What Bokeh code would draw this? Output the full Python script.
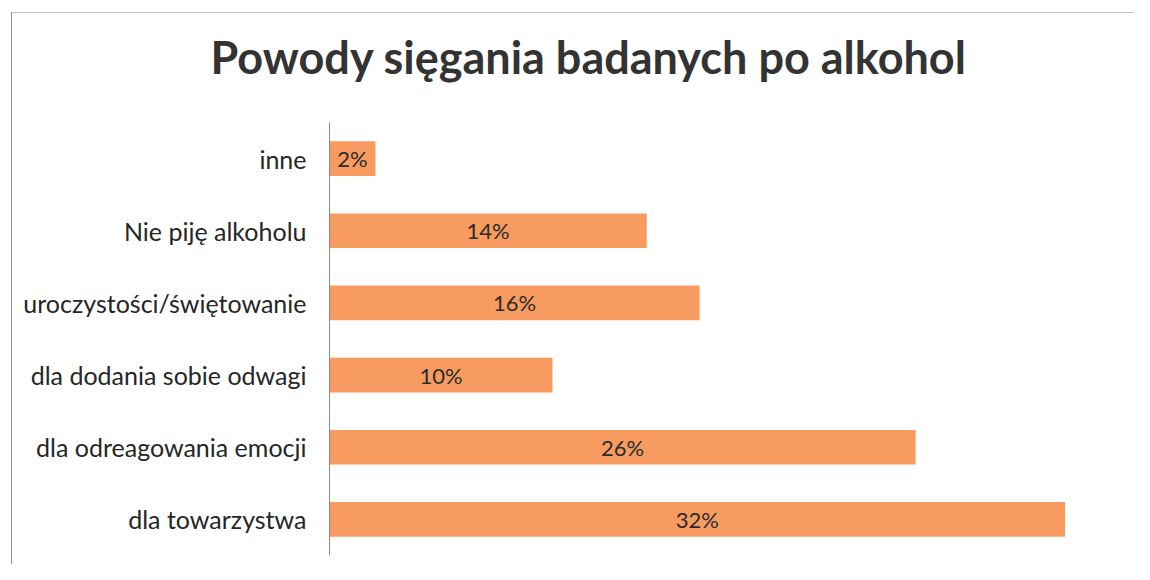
from bokeh.plotting import figure
from bokeh.models import ColumnDataSource, FactorRange, Range1d, Title
from bokeh.core.properties import value
from bokeh.embed import file_html
from bokeh.resources import INLINE

# ---- data (bottom to top) ----
categories = [
    "dla towarzystwa",
    "dla odreagowania emocji",
    "dla dodania sobie odwagi",
    "uroczystości/świętowanie",
    "Nie piję alkoholu",
    "inne",
]
values = [32.0, 25.5, 9.7, 16.1, 13.8, 2.0]
value_labels = ["32%", "26%", "10%", "16%", "14%", "2%"]
title_text = "Powody sięgania badanych po alkohol"

FONT = "Lato"
BAR = "#F79B60"

src = ColumnDataSource(dict(
    cat=categories,
    val=values,
    mid=[v / 2 for v in values],
    lab=value_labels,
))

p = figure(
    width=1134, height=564,
    y_range=FactorRange(factors=categories),
    x_range=Range1d(0, 34.5),
    output_backend="svg", toolbar_location=None,
    min_border_left=329, min_border_top=122, min_border_bottom=9, min_border_right=12,
)
p.border_fill_color = None
p.background_fill_color = "white"
p.styles = {
    "background": "linear-gradient(#8f8f8f,#8f8f8f) 11px 12px/1px 100% no-repeat, "
                  "linear-gradient(#c4c4c4,#c4c4c4) 11px 12px/100% 1px no-repeat, white",
}
p.outline_line_color = None
p.xgrid.visible = False
p.ygrid.visible = False
p.xaxis.visible = False

# spacer between title and plot area
p.add_layout(Title(text=" ", text_font_size="1px", standoff=34), "above")

p.title.text = title_text
p.title.align = "left"
p.title.offset = -119
p.title.standoff = 0
p.title.vertical_align = "top"
p.title.text_font = FONT
p.title.text_font_style = "bold"
p.title.text_font_size = "45px"
p.title.text_color = "#333333"

p.hbar(y="cat", right="val", left=0, height=0.48, source=src,
       fill_color=BAR, line_color=None)
p.text(x="mid", y="cat", text="lab", source=src,
       text_align="center", text_baseline="middle",
       text_font=value(FONT), text_font_size="22px", text_color="#2b2b2b")

ax = p.yaxis[0]
ax.axis_line_color = "#8c8c8c"
ax.axis_line_width = 1
ax.major_tick_line_color = None
ax.minor_tick_line_color = None
ax.major_label_text_font = FONT
ax.major_label_text_font_size = "25px"
ax.major_label_text_color = "#262626"
ax.major_label_standoff = 17

open("out.html", "w").write(file_html(p, INLINE))
